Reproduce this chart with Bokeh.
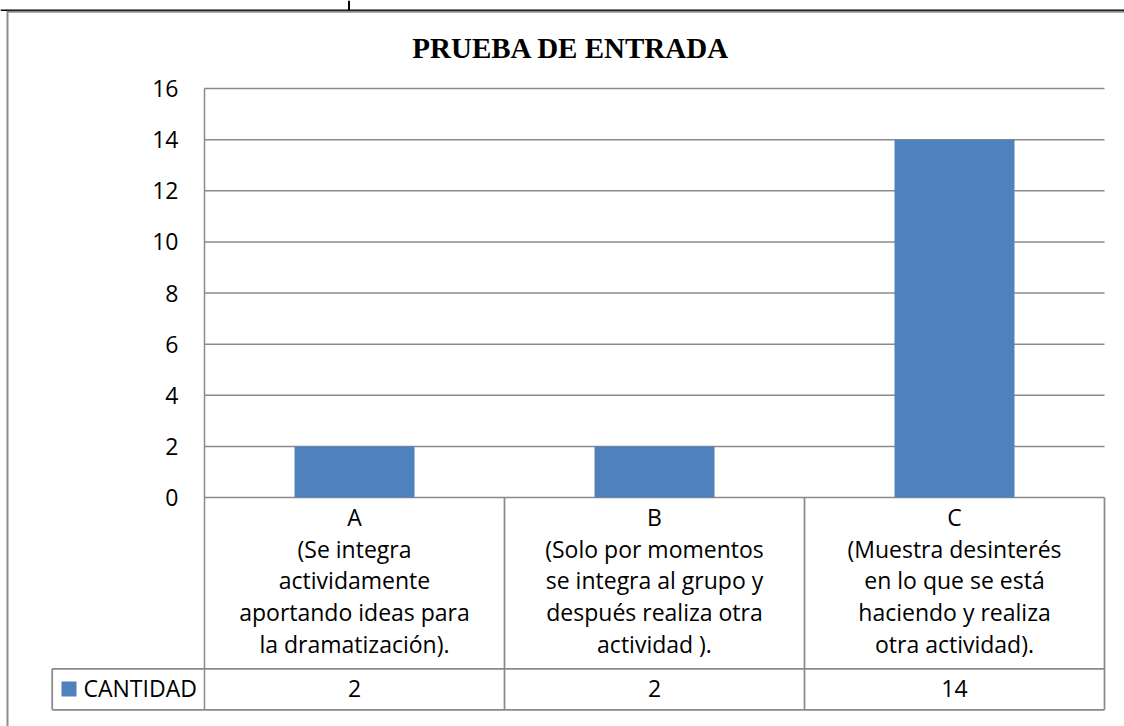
from bokeh.plotting import figure
from bokeh.models import Range1d, FixedTicker, LinearAxis
from bokeh.embed import file_html
from bokeh.resources import INLINE
from bokeh.core.properties import value

# ---------------- data ----------------
title_text = "PRUEBA DE ENTRADA"
categories = [
    "A\n(Se integra\nactividamente\naportando ideas para\nla dramatización).",
    "B\n(Solo por momentos\nse integra al grupo y\ndespués realiza otra\nactividad ).",
    "C\n(Muestra desinterés\nen lo que se está\nhaciendo y realiza\notra actividad).",
]
series_name = "CANTIDAD"
cantidad = [2, 2, 14]
y_ticks = [0, 2, 4, 6, 8, 10, 12, 14, 16]

# ---------------- layout constants (page pixels) ----------------
W, H = 1124, 726
OFF = 0
X0, XS = 204.0, 300.0          # page x of category 0 edge, px per category
Y0, YS = 497.0, 409.0 / 16.0   # page y of value 0, px per unit
TXT_SHIFT = 8.7                # empirical baseline correction for text glyphs


def px2x(px):
    return (px - X0) / XS


def px2y(py):
    return (Y0 - py) / YS


def base_y(py, shift=TXT_SHIFT):
    return px2y(py - shift)


BLUE = "#4F81BD"
GRID = "#8a8a8a"
FONT = "Open Sans"
FS = "23px"

p = figure(width=W, height=H,
           x_range=Range1d(px2x(OFF), px2x(OFF + W)),
           y_range=Range1d(px2y(OFF + H), px2y(OFF)),
           output_backend="svg", toolbar_location=None, min_border=0,
           x_axis_type=None, y_axis_type=None)
p.outline_line_color = None
p.background_fill_color = "white"
p.border_fill_color = "white"

n = len(categories)
xc = [i + 0.5 for i in range(n)]

# gridlines
p.segment(x0=[0] * len(y_ticks), x1=[n] * len(y_ticks), y0=y_ticks, y1=y_ticks,
          line_color=GRID, line_width=1.5)

# bars
p.vbar(x=xc, top=cantidad, bottom=0, width=0.4, fill_color=BLUE, line_color=None)

# y axis at category edge
y_tab_bottom = px2y(709.3)
y_tab_row = px2y(668.3)
x_leg = px2x(51.7)
ax = LinearAxis(fixed_location=0, ticker=FixedTicker(ticks=y_ticks),
                bounds=(y_tab_bottom, max(y_ticks)))
ax.axis_line_color = GRID
ax.axis_line_width = 1.5
ax.major_tick_line_color = None
ax.minor_tick_line_color = None
ax.major_tick_out = 0
ax.major_tick_in = 0
ax.major_label_standoff = 26
ax.major_label_text_font = FONT
ax.major_label_text_font_size = FS
ax.major_label_text_color = "black"
p.add_layout(ax, "left")

# data table lines
p.segment(x0=[x_leg, x_leg], x1=[n, n], y0=[y_tab_row, y_tab_bottom], y1=[y_tab_row, y_tab_bottom],
          line_color=GRID, line_width=1.75)
vx = [i + 1 for i in range(n)]
p.segment(x0=vx, x1=vx, y0=[0] * n, y1=[y_tab_bottom] * n, line_color=GRID, line_width=1.75)
p.segment(x0=[x_leg], x1=[x_leg], y0=[y_tab_row], y1=[y_tab_bottom], line_color=GRID, line_width=1.75)

# category labels (multi-line)
LINE_H = 31.7
tx, ty, tt = [], [], []
for i, lab in enumerate(categories):
    for j, line in enumerate(lab.split("\n")):
        tx.append(xc[i])
        ty.append(base_y(525 + j * LINE_H))
        tt.append(line)
p.text(x=tx, y=ty, text=tt, text_align="center", text_baseline="alphabetic",
       text_font=value(FONT), text_font_size=FS, text_color="black")

# values row
p.text(x=xc, y=[base_y(696.7)] * n, text=[str(v) for v in cantidad], text_align="center",
       text_baseline="alphabetic", text_font=value(FONT), text_font_size=FS, text_color="black")

# legend key
p.quad(left=[px2x(61)], right=[px2x(76)], top=[px2y(681)], bottom=[px2y(696)],
       fill_color=BLUE, line_color=None)
p.text(x=[px2x(83)], y=[base_y(696)], text=[series_name], text_align="left",
       text_baseline="alphabetic", text_font=value(FONT), text_font_size=FS, text_color="black")

# title
p.text(x=[px2x(570.5)], y=[base_y(58, 11)], text=[title_text], text_align="center",
       text_baseline="alphabetic", text_font=value("Liberation Serif"), text_font_size="29px",
       text_font_style="bold", text_color="black")

# page / chart-area borders
p.segment(x0=[px2x(OFF)], x1=[px2x(OFF + W)], y0=[px2y(9.7)], y1=[px2y(9.7)],
          line_color="black", line_width=1.6)
p.segment(x0=[px2x(348.5)], x1=[px2x(348.5)], y0=[px2y(OFF)], y1=[px2y(9.7)],
          line_color="black", line_width=2)
p.segment(x0=[px2x(6.5)], x1=[px2x(OFF + W)], y0=[px2y(11.3)], y1=[px2y(11.3)],
          line_color="#8c8c8c", line_width=2)
p.segment(x0=[px2x(7)], x1=[px2x(7)], y0=[px2y(10.5)], y1=[px2y(OFF + H)],
          line_color="#8c8c8c", line_width=2)

open("out.html", "w").write(file_html(p, INLINE))
